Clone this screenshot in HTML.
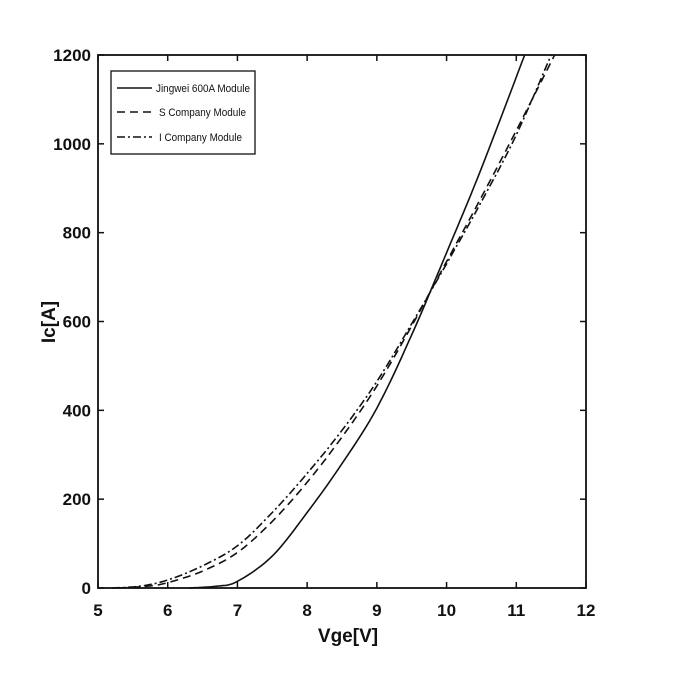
<!DOCTYPE html><html><head><style>body{margin:0;background:#fff}</style></head><body>
<svg id="s" width="688" height="693" xmlns="http://www.w3.org/2000/svg" font-family="Liberation Sans, sans-serif">
<rect x="98" y="55" width="488" height="533" fill="none" stroke="#111" stroke-width="1.8"/>
<g id="t" stroke="#111" stroke-width="1.5"></g>
<g id="lab" font-size="17" font-weight="bold" fill="#111"></g>
<text x="348" y="642" font-size="19" font-weight="bold" text-anchor="middle" fill="#111">Vge[V]</text>
<text transform="translate(55,322) rotate(-90)" font-size="19" font-weight="bold" text-anchor="middle" fill="#111">Ic[A]</text>
<g id="c" fill="none" stroke="#111" stroke-width="1.6"></g>
<rect x="111" y="71" width="144" height="83" fill="#fff" stroke="#111" stroke-width="1.3"/>
<line x1="117" y1="88" x2="152" y2="88" stroke="#111" stroke-width="1.5"/>
<line x1="117" y1="112" x2="152" y2="112" stroke="#111" stroke-width="1.5" stroke-dasharray="8,5"/>
<line x1="117" y1="137" x2="152" y2="137" stroke="#111" stroke-width="1.5" stroke-dasharray="8,3,2,3"/>
<g font-size="11" fill="#111"><text x="156" y="92" textLength="94" lengthAdjust="spacingAndGlyphs">Jingwei 600A Module</text><text x="159" y="116" textLength="87" lengthAdjust="spacingAndGlyphs">S Company Module</text><text x="159" y="141" textLength="83" lengthAdjust="spacingAndGlyphs">I Company Module</text></g>
</svg>
<script>
const X=v=>98+(v-5)*488/7, Y=a=>588-a*533/1200;
const t=document.getElementById('t'),lab=document.getElementById('lab'),ns="http://www.w3.org/2000/svg";
function el(p,tag,at,txt){const e=document.createElementNS(ns,tag);for(const k in at)e.setAttribute(k,at[k]);if(txt!=null)e.textContent=txt;p.appendChild(e);}
for(let v=5;v<=12;v++){const x=X(v);el(t,'line',{x1:x,y1:588,x2:x,y2:582});el(t,'line',{x1:x,y1:55,x2:x,y2:61});el(lab,'text',{x:x,y:616,'text-anchor':'middle'},v);}
for(let a=0;a<=1200;a+=200){const y=Y(a);el(t,'line',{x1:98,y1:y,x2:104,y2:y});el(t,'line',{x1:586,y1:y,x2:580,y2:y});el(lab,'text',{x:91,y:y+6,'text-anchor':'end'},a);}
function cr(pts){let d='M'+X(pts[0][0])+','+Y(pts[0][1]);for(let i=0;i<pts.length-1;i++){const p0=pts[Math.max(0,i-1)],p1=pts[i],p2=pts[i+1],p3=pts[Math.min(pts.length-1,i+2)];for(let k=1;k<=10;k++){const s=k/10,s2=s*s,s3=s2*s;const f=(a,b,c,d)=>0.5*(2*b+(-a+c)*s+(2*a-5*b+4*c-d)*s2+(-a+3*b-3*c+d)*s3);d+=' L'+X(f(p0[0],p1[0],p2[0],p3[0])).toFixed(1)+','+Y(f(p0[1],p1[1],p2[1],p3[1])).toFixed(1);}}return d;}
const c=document.getElementById('c');
el(c,'path',{d:cr([[6.3,0],[6.7,4],[7,15],[7.5,72],[8,170],[8.5,280],[9,405],[9.5,570],[10,755],[10.5,945],[11.12,1200]])});
el(c,'path',{d:cr([[5.3,0],[5.7,4],[6,12],[6.5,38],[7,80],[7.5,150],[8,238],[8.5,340],[9,455],[9.5,590],[10,735],[10.5,880],[11,1030],[11.55,1200]]),'stroke-dasharray':'8,5'});
el(c,'path',{d:cr([[5.2,0],[5.6,4],[6,18],[6.5,50],[7,95],[7.5,170],[8,258],[8.5,355],[9,465],[9.5,595],[10,730],[10.5,870],[11,1020],[11.5,1200]]),'stroke-dasharray':'8,3,2,3'});
</script>
</body></html>
